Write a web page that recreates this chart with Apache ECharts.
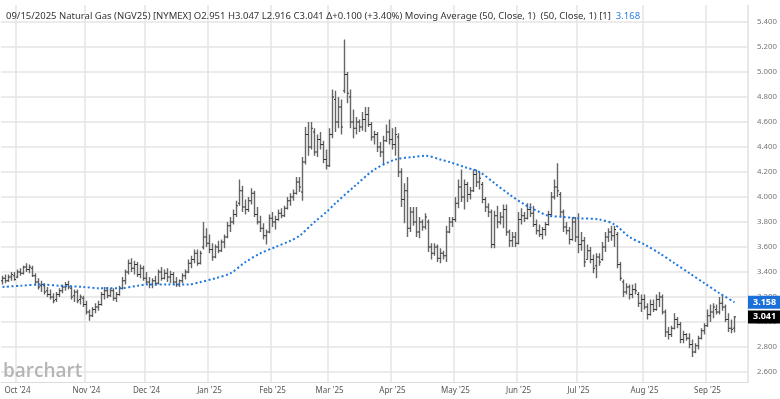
<!DOCTYPE html>
<html>
<head>
<meta charset="utf-8">
<script src="https://cdn.jsdelivr.net/npm/echarts@6/dist/echarts.min.js"></script>
<style>
  html, body { margin: 0; padding: 0; background: #fff; }
  #main { width: 780px; height: 399px; }
</style>
</head>
<body>
<div id="main"></div>
<script>
// month labels sit on the first trading day of each month (bar index)
var monthStarts = [5, 28, 48, 69, 90, 109, 130, 151, 172, 192, 214, 235];
var monthLabels = ["Oct '24", "Nov '24", "Dec '24", "Jan '25", "Feb '25", "Mar '25",
  "Apr '25", "May '25", "Jun '25", "Jul '25", "Aug '25", "Sep '25"];
var yTicks = [2.6, 2.8, 3.0, 3.2, 3.4, 3.6, 3.8, 4.0, 4.2, 4.4, 4.6, 4.8, 5.0, 5.2, 5.4];

// daily bars [open, high, low, close], 24 Sep 2024 .. 15 Sep 2025
var ohlc = [
  [3.33,3.37,3.30,3.35],[3.35,3.38,3.31,3.33],[3.33,3.38,3.32,3.36],[3.36,3.40,3.33,3.38],[3.37,3.40,3.33,3.34],
  // Oct
  [3.36,3.42,3.35,3.40],[3.40,3.43,3.37,3.39],[3.39,3.45,3.38,3.44],[3.44,3.47,3.40,3.42],[3.42,3.46,3.39,3.44],
  [3.43,3.45,3.36,3.37],[3.37,3.39,3.30,3.32],[3.32,3.35,3.26,3.28],[3.29,3.33,3.24,3.30],[3.29,3.31,3.22,3.24],
  [3.25,3.28,3.20,3.22],[3.22,3.26,3.18,3.20],[3.20,3.23,3.15,3.17],[3.18,3.24,3.16,3.22],[3.22,3.27,3.20,3.25],
  [3.25,3.30,3.23,3.28],[3.28,3.32,3.25,3.30],[3.30,3.33,3.26,3.28],[3.27,3.29,3.18,3.20],[3.21,3.26,3.16,3.24],
  [3.24,3.26,3.15,3.17],[3.18,3.22,3.14,3.20],[3.19,3.21,3.12,3.14],
  // Nov
  [3.14,3.17,3.06,3.08],[3.08,3.10,3.01,3.05],[3.05,3.12,3.04,3.10],[3.10,3.15,3.07,3.12],[3.12,3.17,3.09,3.14],
  [3.14,3.24,3.13,3.22],[3.22,3.28,3.18,3.25],[3.25,3.28,3.19,3.21],[3.21,3.27,3.20,3.25],[3.25,3.27,3.17,3.19],
  [3.19,3.24,3.16,3.22],[3.22,3.29,3.21,3.27],[3.27,3.36,3.26,3.33],[3.33,3.42,3.30,3.40],[3.40,3.50,3.38,3.47],
  [3.47,3.51,3.40,3.43],[3.43,3.49,3.38,3.46],[3.46,3.48,3.36,3.38],[3.38,3.46,3.35,3.43],[3.43,3.45,3.33,3.35],
  // Dec
  [3.35,3.40,3.30,3.32],[3.32,3.36,3.27,3.30],[3.30,3.35,3.27,3.33],[3.33,3.37,3.29,3.31],[3.31,3.42,3.30,3.40],
  [3.40,3.44,3.33,3.35],[3.35,3.42,3.34,3.39],[3.39,3.43,3.32,3.36],[3.36,3.41,3.31,3.38],[3.38,3.40,3.30,3.32],
  [3.32,3.36,3.28,3.30],[3.30,3.34,3.28,3.33],[3.33,3.39,3.31,3.37],[3.37,3.42,3.34,3.40],[3.40,3.50,3.39,3.47],
  [3.47,3.53,3.43,3.50],[3.50,3.58,3.47,3.55],[3.55,3.58,3.45,3.47],[3.47,3.57,3.46,3.55],[3.60,3.80,3.58,3.68],
  [3.68,3.75,3.60,3.63],
  // Jan
  [3.63,3.70,3.55,3.58],[3.58,3.63,3.49,3.52],[3.52,3.62,3.51,3.60],[3.60,3.65,3.55,3.57],[3.57,3.66,3.56,3.64],
  [3.64,3.70,3.59,3.68],[3.68,3.80,3.67,3.77],[3.77,3.84,3.72,3.80],[3.80,3.90,3.78,3.86],[3.86,3.97,3.84,3.93],
  [3.95,4.14,3.93,4.05],[4.05,4.09,3.88,3.92],[3.92,3.98,3.86,3.90],[3.90,4.00,3.88,3.97],[3.97,4.07,3.94,4.03],
  [4.03,4.05,3.84,3.86],[3.86,3.92,3.78,3.80],[3.80,3.85,3.72,3.75],[3.75,3.79,3.66,3.69],[3.69,3.74,3.62,3.72],
  [3.72,3.86,3.71,3.83],
  // Feb
  [3.83,3.88,3.76,3.80],[3.80,3.85,3.74,3.82],[3.82,3.90,3.81,3.87],[3.87,3.91,3.83,3.85],[3.85,3.93,3.84,3.91],
  [3.91,4.00,3.90,3.97],[3.97,4.03,3.93,4.00],[4.00,4.06,3.97,4.03],[4.03,4.16,4.02,4.12],[4.12,4.16,4.04,4.08],
  [4.04,4.32,3.97,4.28],[4.28,4.56,4.26,4.50],[4.50,4.60,4.33,4.40],[4.40,4.60,4.38,4.55],[4.52,4.55,4.33,4.36],
  [4.36,4.50,4.32,4.46],[4.46,4.52,4.38,4.42],[4.42,4.45,4.27,4.30],[4.30,4.38,4.22,4.25],
  // Mar
  [4.25,4.55,4.24,4.50],[4.50,4.86,4.47,4.80],[4.78,4.85,4.52,4.60],[4.60,4.80,4.55,4.72],[4.72,4.78,4.50,4.56],
  [4.85,5.26,4.83,4.98],[4.98,5.00,4.75,4.83],[4.80,4.86,4.55,4.60],[4.60,4.70,4.47,4.55],[4.55,4.64,4.50,4.60],
  [4.60,4.62,4.52,4.56],[4.56,4.68,4.53,4.62],[4.62,4.72,4.52,4.66],[4.66,4.72,4.56,4.58],[4.58,4.60,4.45,4.48],
  [4.48,4.53,4.42,4.50],[4.50,4.52,4.36,4.40],[4.40,4.44,4.32,4.36],[4.36,4.49,4.26,4.45],[4.45,4.58,4.44,4.52],
  [4.52,4.62,4.42,4.46],
  // Apr
  [4.46,4.55,4.38,4.42],[4.42,4.56,4.33,4.50],[4.48,4.51,4.16,4.20],[4.20,4.23,3.92,3.98],[3.98,4.11,3.79,4.05],
  [4.05,4.16,3.68,3.75],[3.75,3.92,3.72,3.88],[3.88,3.92,3.77,3.80],[3.80,3.92,3.68,3.72],[3.72,3.84,3.67,3.80],
  [3.80,3.82,3.73,3.76],[3.76,3.87,3.74,3.84],[3.80,3.82,3.56,3.60],[3.60,3.63,3.50,3.55],[3.55,3.63,3.53,3.60],
  [3.60,3.62,3.48,3.51],[3.51,3.59,3.47,3.55],[3.55,3.57,3.50,3.53],[3.53,3.77,3.48,3.72],[3.72,3.84,3.71,3.80],
  [3.80,3.84,3.76,3.82],
  // May
  [3.82,4.00,3.80,3.95],[3.95,4.14,3.91,4.08],[4.08,4.22,3.96,4.00],[4.00,4.14,3.90,4.10],[4.10,4.12,3.96,4.02],
  [4.02,4.08,3.98,4.05],[4.05,4.22,4.04,4.18],[4.18,4.22,4.08,4.12],[4.12,4.20,4.06,4.15],[4.10,4.12,3.95,3.98],
  [3.98,4.00,3.88,3.92],[3.92,3.95,3.84,3.88],[3.88,3.90,3.59,3.62],[3.62,3.89,3.59,3.85],[3.85,3.93,3.75,3.80],
  [3.80,3.88,3.78,3.84],[3.84,3.94,3.75,3.90],[3.90,3.94,3.69,3.72],[3.72,3.74,3.60,3.65],[3.65,3.72,3.60,3.68],
  [3.68,3.72,3.60,3.63],
  // Jun
  [3.63,3.88,3.62,3.82],[3.82,3.91,3.78,3.85],[3.85,3.88,3.80,3.83],[3.83,3.95,3.82,3.90],[3.90,3.95,3.84,3.87],
  [3.87,3.93,3.76,3.78],[3.78,3.82,3.70,3.73],[3.73,3.78,3.68,3.70],[3.70,3.76,3.66,3.74],[3.74,3.80,3.69,3.78],
  [3.78,3.89,3.77,3.86],[3.86,4.04,3.85,4.00],[4.00,4.14,3.98,4.08],[4.08,4.27,4.00,4.05],[4.02,4.04,3.84,3.88],
  [3.88,3.90,3.72,3.76],[3.76,3.80,3.70,3.73],[3.73,3.76,3.62,3.66],[3.66,3.84,3.65,3.80],[3.80,3.84,3.64,3.68],
  // Jul
  [3.68,3.87,3.55,3.62],[3.62,3.72,3.57,3.65],[3.65,3.68,3.44,3.48],[3.50,3.62,3.50,3.57],[3.57,3.60,3.47,3.50],
  [3.50,3.54,3.39,3.43],[3.45,3.55,3.35,3.52],[3.52,3.55,3.45,3.48],[3.50,3.64,3.49,3.60],[3.60,3.72,3.56,3.68],
  [3.68,3.75,3.64,3.72],[3.72,3.77,3.65,3.69],[3.69,3.77,3.60,3.74],[3.70,3.72,3.43,3.46],[3.46,3.48,3.33,3.35],
  [3.32,3.34,3.20,3.24],[3.24,3.31,3.22,3.28],[3.28,3.30,3.18,3.22],[3.22,3.30,3.19,3.26],[3.26,3.31,3.22,3.25],
  [3.22,3.24,3.12,3.15],[3.15,3.22,3.08,3.18],
  // Aug
  [3.18,3.22,3.10,3.12],[3.12,3.15,3.02,3.06],[3.06,3.18,3.05,3.14],[3.14,3.18,3.08,3.10],[3.10,3.22,3.09,3.18],
  [3.18,3.24,3.12,3.20],[3.20,3.22,3.06,3.08],[3.08,3.10,2.88,2.92],[2.92,2.96,2.86,2.90],[2.90,2.97,2.88,2.95],
  [2.95,3.07,2.94,3.02],[3.02,3.04,2.95,2.98],[2.98,3.00,2.83,2.86],[2.86,2.93,2.83,2.90],[2.90,2.91,2.85,2.87],
  [2.87,2.91,2.79,2.82],[2.82,2.86,2.72,2.76],[2.76,2.83,2.75,2.81],[2.81,2.89,2.78,2.87],[2.87,2.95,2.86,2.93],
  [2.93,2.99,2.90,2.97],
  // Sep
  [2.97,3.10,2.96,3.05],[3.05,3.14,3.00,3.08],[3.08,3.15,3.03,3.12],[3.10,3.14,3.06,3.08],[3.08,3.20,3.06,3.15],
  [3.15,3.21,3.09,3.12],[3.12,3.14,3.00,3.02],[3.02,3.07,2.92,2.95],[2.95,3.02,2.91,2.941],[2.951,3.047,2.916,3.041]
];

// 50-day moving average: [bar index, value]
var maPoints = [
  [0,3.28],[6,3.29],[13,3.30],[19,3.29],[27,3.28],[32,3.27],[39,3.27],[45,3.29],[48,3.30],
  [55,3.30],[62,3.30],[66,3.32],[71,3.35],[76,3.39],[81,3.48],[86,3.55],[91,3.60],[96,3.65],
  [99,3.69],[104,3.80],[108,3.88],[111,3.95],[118,4.10],[124,4.22],[131,4.30],[137,4.32],
  [141,4.33],[146,4.30],[149,4.28],[154,4.24],[159,4.20],[164,4.11],[169,4.02],[174,3.94],
  [179,3.88],[182,3.85],[187,3.84],[192,3.83],[199,3.82],[204,3.78],[209,3.68],[214,3.62],
  [219,3.55],[224,3.47],[229,3.39],[234,3.31],[239,3.23],[244,3.158]
];
var lastMA = 3.158;
var lastClose = 3.041;
var emptyBars = 4;

var cats = [];
for (var i = 0; i < ohlc.length + emptyBars; i++) cats.push(String(i));

function isMonthStart(idx) {
  return monthStarts.indexOf(idx) >= 0;
}

function renderBar(params, api) {
  var i = api.value(0);
  var op = api.coord([i, api.value(1)]);
  var hi = api.coord([i, api.value(2)]);
  var lo = api.coord([i, api.value(3)]);
  var cl = api.coord([i, api.value(4)]);
  var x = hi[0];
  return {
    type: 'group',
    children: [
      { type: 'line', shape: { x1: x, y1: hi[1], x2: x, y2: lo[1] },
        style: { stroke: '#666', lineWidth: 1.4 } },
      { type: 'line', shape: { x1: x - 1.5, y1: op[1], x2: x, y2: op[1] },
        style: { stroke: '#333', lineWidth: 1 } },
      { type: 'line', shape: { x1: x, y1: cl[1], x2: x + 1.5, y2: cl[1] },
        style: { stroke: '#333', lineWidth: 1 } }
    ]
  };
}

var FONT = 'Noto Sans';
var chart = echarts.init(document.getElementById('main'));
var option = {
  animation: false,
  backgroundColor: '#fff',
  title: {
    left: 1,
    top: 2,
    text: "{t|09/15/2025 Natural Gas (NGV25) [NYMEX] O2.951 H3.047 L2.916 C3.041 \u0394+0.100 (+3.40%) Moving Average (50, Close, 1)  (50, Close, 1) [1]} {v|3.168}",
    textStyle: {
      rich: {
        t: { fontFamily: FONT, fontSize: 9.5, fontWeight: 'normal', color: '#333' },
        v: { fontFamily: FONT, fontSize: 9.5, fontWeight: 'normal', color: '#2a7de1' }
      }
    }
  },
  grid: { left: 1, right: 32, top: 5, bottom: 17 },
  xAxis: {
    type: 'category',
    data: cats,
    boundaryGap: true,
    axisLine: { lineStyle: { color: '#dcdcdc' } },
    axisTick: { show: false },
    axisLabel: {
      interval: function (idx) { return isMonthStart(idx); },
      formatter: function (v, idx) { return monthLabels[monthStarts.indexOf(idx)]; },
      color: '#555',
      fontFamily: FONT,
      fontSize: 8,
      margin: 5
    },
    splitLine: {
      show: true,
      interval: function (idx) { return isMonthStart(idx); },
      lineStyle: { color: '#e4e4e4', width: 1.5 }
    }
  },
  yAxis: {
    type: 'value',
    position: 'right',
    min: 2.52,
    max: 5.536,
    axisLine: { show: true, lineStyle: { color: '#e4e4e4' } },
    axisTick: { show: false, customValues: yTicks },
    axisLabel: {
      customValues: yTicks,
      formatter: function (v) { return v.toFixed(3); },
      color: '#777',
      fontFamily: FONT,
      fontSize: 7.8,
      margin: 9
    },
    splitLine: { show: true, lineStyle: { color: '#e4e4e4', width: 1.5 } }
  },
  series: [
    {
      type: 'custom',
      renderItem: renderBar,
      encode: { x: 0, y: [1, 2, 3, 4] },
      data: ohlc.map(function (d, i) { return [i].concat(d); }),
      z: 3
    },
    {
      type: 'line',
      data: maPoints,
      showSymbol: false,
      smooth: 0.3,
      lineStyle: { color: '#1f78e0', width: 2, type: [2, 2.5] },
      z: 4
    }
  ]
};
chart.setOption(option);

// last-value tags on the price axis, placed through the y scale
function valueTag(v, bg) {
  var y = chart.convertToPixel({ yAxisIndex: 0 }, v);
  return {
    type: 'text',
    x: 748,
    y: y,
    z: 10,
    style: {
      text: v.toFixed(3),
      fill: '#fff',
      fontFamily: FONT,
      fontWeight: 'bold',
      fontSize: 9,
      verticalAlign: 'middle',
      backgroundColor: bg,
      padding: [2, 4, 2, 5]
    }
  };
}
chart.setOption({
  graphic: [
    {
      type: 'text',
      left: 3,
      top: 362,
      style: { text: 'barchart', fontFamily: 'Open Sans', fontWeight: 600, fontSize: 19, fill: '#b5b5b5' }
    },
    valueTag(lastMA, '#1a6fd8'),
    valueTag(lastClose, '#000')
  ]
});
</script>
</body>
</html>
